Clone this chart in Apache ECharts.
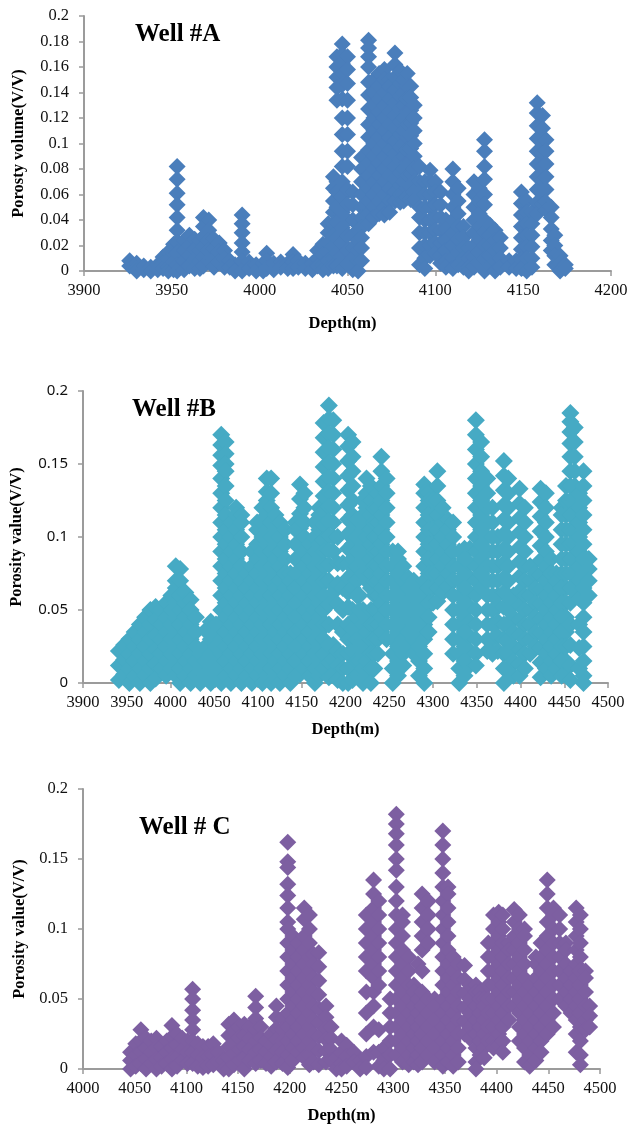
<!DOCTYPE html>
<html>
<head>
<meta charset="utf-8">
<title>Well porosity</title>
<script src="https://cdn.jsdelivr.net/npm/echarts@6/dist/echarts.min.js"></script>
<style>
html,body{margin:0;padding:0;background:#fff}
#main{width:628px;height:1125px}
</style>
</head>
<body>
<div id="main"></div>
<script>
// each depth has its own stack of porosity readings
const wellA_depths=[3926,3930,3934,3938,3942,3945,3948,3951,3953,3957,3960,3963,3966,3968,3971,3974,3977,3980,3983,3986,3990,3994,3998,4002,4004,4008,4012,4016,4019,4022,4026,4030,4033,4036,4039,4042,4044,4047,4050,4053,4056,4058,4062,4065,4068,4071,4074,4077,4080,4082,4084,4086,4088,4091,4094,4097,4100,4103,4106,4110,4113,4116,4119,4122,4125,4128,4131,4134,4137,4142,4146,4149,4152,4155,4158,4161,4163,4166,4168,4171,4174];
const wellA_porosity=[
[.008,.004],[.006,.002,0],[.004,.001],[.003,0],[.005,.001],[.011,.006,.002],[.015,.009,.003,0],[.021,.014,.007,.001],
[.082,.072,.061,.052,.042,.032,.023,.014,.005,0],[.024,.016,.008,.001],[.028,.02,.012,.004],[.025,.017,.009,.002],[.024,.016,.008,.002],
[.042,.035,.027,.019,.011,.004],[.04,.032,.024,.016,.008],[.025,.017,.009,.003],[.022,.015,.007],[.016,.01,.003],[.008,.003],[.005,0],
[.044,.037,.03,.022,.015,.008,0],[.007,.002],[.005,0],[.006,0],[.014,.008,.002],[.006,.001],[.007,.003],[.006,.002],[.013,.007,.002],[.008,.003],[.006,.002],[.006,.001],
[.016,.01,.004],[.021,.013,.005,.001],[.037,.03,.022,.015,.008,.002],[.074,.065,.055,.046,.037,.028,.019,.01,.004],
[.168,.16,.152,.144,.134,.07,.062,.05,.038,.026,.014,.004],
[.178,.17,.163,.155,.146,.135,.12,.107,.094,.082,.07,.058,.046,.034,.022,.012,.002],
[.168,.158,.147,.134,.12,.107,.094,.082,.064,.052,.04,.028,.016,.006],
[.062,.052,.04,.028,.018,.01,.001],[.032,.024,.016,.008,0],[.089,.08,.07,.06,.05,.042,.034,.026,.018,.008],
[.181,.175,.168,.16,.148,.138,.127,.115,.105,.095,.085,.075,.065,.055,.045,.037],
[.15,.14,.13,.12,.11,.1,.09,.08,.07,.06,.05,.042],[.155,.145,.135,.125,.115,.105,.095,.085,.075,.065,.055,.045],
[.158,.15,.14,.13,.12,.11,.1,.09,.08,.07,.06,.05,.044],[.15,.145,.135,.125,.115,.105,.095,.085,.075,.065,.055,.046],
[.171,.162,.152,.142,.132,.122,.112,.102,.092,.082,.072,.062,.055],[.157,.147,.137,.127,.117,.107,.097,.087,.077,.067,.06,.054],
[.15,.14,.13,.12,.11,.1,.09,.08,.07,.06,.055],[.155,.145,.135,.125,.115,.105,.095,.085,.075,.065,.058],
[.145,.136,.126,.116,.106,.096,.086,.076,.066,.056],[.13,.12,.11,.1,.09,.08,.07,.062,.056],[.082,.07,.062,.05,.042,.03,.018,.005],[.07,.06,.05,.04,.03,.02,.01,.002],
[.079,.07,.06,.05,.04,.03,.02,.012],[.07,.062,.052,.042,.032,.022,.014],[.062,.052,.042,.032,.022,.012,.006],[.04,.033,.024,.016,.008,.003],
[.08,.07,.06,.05,.04,.03,.02,.01,.002],[.065,.055,.045,.035,.025,.015,.005],[.035,.026,.018,.01,.003],[.018,.01,.003,0],[.07,.06,.05,.04,.03,.02,.011,.003],
[.065,.055,.045,.035,.025,.015,.006],[.103,.094,.082,.072,.06,.052,.04,.03,.02,.01,0],[.036,.028,.02,.012,.004],[.032,.024,.016,.008,0],[.026,.018,.01,.003],
[.008,.003],[.008,.002],[.062,.053,.044,.035,.026,.017,.009,.002],[.055,.046,.037,.028,.019,.01,0],[.046,.037,.028,.019,.01,.003],
[.132,.124,.114,.104,.094,.084,.074,.064,.054,.045],[.122,.112,.102,.092,.082,.072,.062,.052],[.103,.094,.084,.074,.064,.054,.048],[.05,.042,.033,.024,.016],
[.028,.02,.012,.005],[.012,.006,0],[.005,.002]
];

const wellB_depths=[3941,3947,3953,3959,3965,3971,3977,3983,3989,3995,4001,4006,4011,4017,4023,4029,4034,4040,4046,4052,4058,4063,4069,4075,4081,4087,4093,4099,4105,4110,4115,4120,4125,4131,4137,4143,4148,4153,4159,4165,4170,4175,4181,4186,4191,4197,4203,4208,4213,4216,4220,4224,4229,4233,4237,4241,4247,4254,4260,4266,4272,4278,4284,4290,4295,4300,4305,4311,4317,4323,4330,4336,4342,4349,4355,4362,4368,4374,4381,4386,4392,4399,4405,4411,4417,4423,4429,4435,4441,4447,4452,4457,4462,4467,4472,4478];
const wellB_porosity=[
[.022,.012,.002],[.026,.016,.006],[.03,.02,.01,0],[.035,.025,.015,.005],[.04,.03,.02,.01,0],[.045,.035,.025,.015,.005],[.05,.04,.03,.02,.01,0],[.052,.043,.033,.023,.013,.003],
[.05,.04,.03,.02,.01],[.055,.045,.035,.025,.015,.005],[.06,.05,.04,.03,.02,.01],[.08,.07,.065,.055,.045,.035,.025,.015,.005],[.078,.07,.06,.05,.04,.03,.02,.01,0],[.062,.055,.045,.035,.025,.015,.005],
[.057,.05,.04,.03,.02,.01,0],[.045,.035,.025,.015,.005],[.02,.01,0],[.036,.025,.015,.005],[.042,.03,.02,.01,0],[.04,.035,.025,.015,.005],
[.17,.163,.156,.149,.14,.13,.12,.11,.1,.09,.08,.07,.06,.05,.04,.03,.02,.01,0],[.165,.157,.15,.145,.135,.125,.115,.105,.095,.085,.075,.065,.055,.045,.035,.025,.015,.005],
[.11,.1,.09,.08,.07,.06,.05,.04,.03,.02,.01,0],[.12,.115,.105,.095,.085,.075,.065,.055,.045,.035,.025,.015,.005],[.115,.11,.1,.09,.08,.07,.06,.05,.04,.03,.02,.01,0],
[.075,.065,.055,.045,.035,.025,.015,.005],[.09,.08,.07,.06,.05,.04,.03,.02,.01,0],[.11,.105,.095,.085,.075,.065,.055,.045,.035,.025,.015,.005],
[.12,.11,.1,.09,.08,.07,.06,.05,.04,.03,.02,.01,0],[.14,.131,.125,.115,.105,.095,.085,.075,.065,.055,.045,.035,.025,.015,.005],[.14,.13,.12,.11,.1,.09,.08,.07,.06,.05,.04,.03,.02,.01,0],
[.115,.105,.095,.085,.075,.065,.055,.045,.035,.025,.015,.005],[.11,.1,.09,.08,.07,.06,.05,.04,.03,.02,.01,0],[.105,.095,.085,.075,.065,.055,.045,.035,.025,.015,.005],
[.075,.07,.06,.05,.04,.03,.02,.01,0],[.11,.105,.095,.085,.075,.065,.055,.045,.035,.025,.015,.005],[.136,.126,.116,.106,.096,.086,.076,.066,.056,.046,.036,.026,.016,.006],[.13,.12,.11,.1,.09,.08,.07,.06,.05,.04,.03,.02,.01],
[.095,.085,.075,.065,.055,.045,.035,.025,.015,.005],[.11,.1,.09,.08,.07,.06,.05,.04,.03,.02,.01,0],[.12,.115,.105,.095,.085,.075,.065,.055,.045,.035,.025,.015,.005],
[.178,.168,.158,.148,.138,.128,.118,.108,.098,.09,.08,.07,.06,.05,.04,.03,.02,.01],
[.19,.181,.171,.161,.151,.141,.131,.121,.111,.101,.091,.081,.07,.054,.04,.026,.014,.004],[.18,.17,.16,.15,.14,.13,.12,.11,.1,.09,.062,.026,.016,.006],[.1,.082,.068,.054,.04,.022,.012,.002],
[.082,.065,.05,.035,.02,.01,0],[.17,.162,.152,.142,.132,.122,.112,.102,.092,.082,.072,.062,.052,.04,.03,.02,.01,0],[.165,.155,.145,.135,.125,.115,.105,.095,.085,.075,.065,.05,.037,.022,.012,.002],
[.112,.1,.09,.08,.07,.06,.045,.03,.015,.005],[.06,.05,.038,.025,.015,.005],[.125,.115,.105,.095,.085,.075,.05,.04,.03,.02,.01,0],[.14,.13,.12,.11,.1,.09,.08,.07,.045,.035,.025,.015,.005],[.135,.125,.115,.105,.095,.085,.075,.065,.05,.04,.03,.02,.01,0],
[.12,.11,.1,.09,.08,.07,.06,.05,.04,.03,.02,.01],[.13,.12,.11,.1,.09,.08,.07,.06,.05,.04,.03,.02],
[.155,.145,.135,.125,.115,.105,.095,.085,.075,.065,.055,.045,.035],[.14,.13,.12,.11,.1,.09,.08,.07,.06,.05,.04,.03],
[.09,.08,.07,.06,.05,.04,.03,.02,.01,0],[.09,.085,.075,.065,.055,.045,.035,.025,.015,.005],[.08,.07,.06,.05,.04,.03,.02,.012],[.072,.065,.055,.045,.035,.025],[.07,.06,.05,.04,.03,.02],[.065,.055,.045,.035,.025,.015,.005],
[.136,.13,.12,.11,.1,.09,.08,.07,.06,.05,.04,.03,.02,.01,0],[.13,.125,.115,.105,.095,.085,.075,.065,.055,.045,.035],[.125,.115,.105,.095,.085,.075,.065,.055],
[.145,.135,.125,.115,.105,.095,.085,.075,.065,.056],[.12,.11,.1,.09,.08,.07,.062],[.112,.105,.095,.085,.075,.066],[.11,.1,.09,.08,.07,.06,.05,.04,.03,.02],[.09,.08,.07,.06,.05,.04,.03,.02,.01,0],[.092,.085,.075,.065,.055,.045,.035,.025,.015,.005],[.092,.082,.072,.062,.052,.042,.032,.022,.012],
[.18,.17,.16,.15,.14,.13,.12,.11,.1,.09,.08,.07,.06,.05,.04,.03,.02,.012],[.165,.155,.145,.135,.125,.115,.105,.095,.085,.075,.065],[.14,.13,.12,.11,.1,.09,.08,.07,.06,.05,.04,.03,.022],[.12,.11,.1,.09,.08,.07,.06,.05,.04,.03,.02],
[.1,.09,.08,.07,.06,.052,.042,.032,.022],[.152,.142,.132,.122,.112,.102,.092,.082,.072,.062,.052,.04,.03,.02,.01,0],[.14,.13,.12,.11,.1,.09,.08,.07,.06,.05,.04,.03,.02,.01],[.06,.055,.045,.035,.025,.015,.005],
[.133,.123,.113,.103,.093,.083,.073,.063,.053,.043,.033,.023,.013,.005],[.12,.11,.1,.09,.08,.07,.06,.05,.04,.03,.02,.01],[.08,.07,.06,.05,.04,.03,.02],[.075,.065,.055,.045,.035,.025],
[.133,.124,.114,.104,.094,.084,.074,.064,.054,.044,.034,.024,.014,.004],[.13,.12,.11,.1,.09,.08,.07,.06,.05,.04,.03,.02,.01],[.085,.075,.065,.055,.045,.035,.025,.015,.005],
[.075,.07,.06,.05,.04,.03,.02,.01],[.12,.115,.105,.095,.085,.075,.065,.055,.045,.035,.025,.015,.005],[.135,.125,.115,.105,.095,.085,.075,.065,.055,.045,.035,.025,.015,.005],
[.185,.179,.172,.164,.155,.145,.135,.125,.115,.105,.095,.085,.075,.065,.055,.04,.026,.012,.002],
[.175,.165,.155,.145,.135,.125,.115,.105,.095,.085,.075,.062],[.13,.12,.11,.1,.09,.08,.07,.058,.04,.024,.01],[.145,.135,.125,.115,.105,.095,.085,.075,.065,.055,.045,.035,.025,.015,.005,0],[.085,.078,.07,.06]
];

const wellC_depths=[4046,4051,4056,4061,4066,4071,4076,4081,4086,4091,4096,4101,4106,4111,4116,4121,4126,4131,4136,4141,4146,4151,4156,4161,4167,4172,4177,4182,4187,4193,4198,4203,4208,4214,4219,4223,4228,4235,4240,4245,4250,4255,4262,4268,4274,4281,4286,4291,4297,4303,4309,4315,4320,4324,4328,4334,4340,4348,4353,4358,4363,4369,4374,4380,4384,4388,4392,4397,4402,4406,4412,4417,4422,4427,4432,4438,4443,4449,4455,4461,4467,4472,4477,4481,4486,4490];
const wellC_porosity=[
[.012,.006,0],[.018,.01,.002],[.028,.02,.012,.004],[.022,.015,.007,0],[.02,.012,.004],[.022,.015,.007,0],[.016,.008,.002],[.02,.012,.004],[.031,.023,.015,.007,0],[.025,.017,.009,.002],[.022,.014,.006],[.02,.012,.004],
[.057,.05,.042,.035,.028,.02,.012,.004],[.018,.01,.002],[.016,.008,.001],[.016,.009,.002],[.018,.01,.003],[.012,.005],[.006,0],[.032,.024,.016,.008,0],[.035,.027,.019,.011,.003],[.03,.022,.014,.006],
[.032,.024,.016,.008,0],[.03,.022,.014,.006],[.052,.044,.036,.028,.02,.012,.004],[.03,.022,.014,.006],[.02,.012,.004],[.025,.017,.009,.002],[.045,.037,.029,.021,.013,.005],[.036,.028,.02,.012,.004],
[.162,.148,.144,.132,.124,.115,.105,.1,.09,.08,.07,.06,.05,.04,.03,.02,.01,.001],[.095,.085,.075,.065,.055,.045,.035,.025,.015,.006],[.09,.08,.07,.06,.05,.04,.03,.02,.012],[.115,.107,.095,.085,.075,.065,.055,.045,.035,.025,.015,.008],
[.11,.1,.09,.08,.07,.06,.05,.04,.03,.02,.01,.003],[.082,.075,.065,.055,.045,.035,.025,.015,.005],[.083,.073,.063,.053,.043,.033,.023,.013,.003],[.045,.037,.029,.021,.013,.005],[.03,.022,.014,.006],[.008,0],[.02,.012,.004,0],
[.017,.009,.002],[.012,.005],[.006,0],[.11,.1,.09,.08,.07,.055,.04,.025,.009,.001],[.135,.125,.115,.105,.095,.085,.075,.065,.055,.045,.03,.012],[.12,.11,.1,.09,.08,.07,.06,.028,.012,.002],[.015,.006,0],
[.05,.04,.03,.02,.01,0],[.182,.175,.168,.16,.15,.142,.13,.12,.11,.1,.09,.08,.07,.06,.05,.04,.03,.02,.01],[.11,.105,.095,.085,.075,.065,.055,.045,.035,.025,.015,.005],[.08,.07,.06,.05,.04,.03,.02,.01,.003],[.06,.055,.045,.035,.025,.015,.005],
[.075,.05,.04,.03,.02,.01,.003],[.125,.115,.105,.095,.085,.07,.055,.045,.035,.025,.015,.005],[.12,.11,.1,.09,.05,.04,.03,.02,.01],[.05,.045,.035,.025,.015,.005],[.17,.16,.15,.14,.13,.12,.11,.1,.09,.08,.07,.06,.05,.04,.03,.02,.01,.002],
[.13,.125,.115,.105,.095,.085,.075,.065,.055,.045,.035,.025,.015,.005],[.08,.07,.06,.05,.04,.03,.02,.01,.002],[.075,.065,.055,.045,.035,.025,.015,.005],[.074,.064,.054,.044,.034,.025],[.06,.05,.04,.03,.022],[.06,.055,.045,.035,.025,.015,.005,0],
[.055,.05,.04,.03,.02,.01],[.05,.045,.035,.025,.015,.008],[.09,.08,.07,.06,.05,.04,.03,.02],[.11,.1,.09,.08,.07,.06,.05,.04,.03,.02,.015],[.112,.105,.095,.085,.075,.065,.055,.045,.035,.025,.017],[.11,.1,.09,.08,.07,.06,.05,.04,.03,.02,.012],[.09,.085,.075,.065,.055,.045,.035],
[.114,.105,.095,.085,.075,.065,.055,.045],[.11,.1,.09,.08,.07,.06,.05,.04,.03,.02],[.1,.095,.085,.075,.065,.055,.045,.035,.025,.015,.005],[.06,.05,.04,.03,.02,.01,.002],[.08,.075,.065,.055,.045,.035,.025,.015,.006],[.09,.08,.07,.06,.05,.04,.03,.02,.012],
[.135,.125,.115,.105,.095,.085,.075,.065,.055,.045,.035,.025],[.115,.11,.1,.09,.08,.07,.06,.05,.04,.03],[.11,.1,.09,.08,.07,.06,.05],[.09,.085,.075,.065,.055,.045],[.07,.06,.05,.04],
[.115,.105,.095,.085,.075,.065,.055,.045,.035,.025,.012],[.11,.1,.09,.08,.07,.06,.05,.04,.03,.02,.01,.003],[.07,.065,.055,.045,.035,.028],[.045,.038,.03]
];

const xRangeA=[3900,4200], xRangeB=[3900,4500], xRangeC=[4000,4500];
const yIntervalA=0.02, yIntervalOther=0.05, xInterval=[50,50,50];
const wellNames=['Well #A','Well #B','Well # C'];
const yNames=['Porosty volume(V/V)','Porosity value(V/V)','Porosity value(V/V)'];
const colors=['#4a7ebb','#46aac4','#7d5fa1'];

function toPoints(depths,porosity){
    var pts=[];
    for(let i=0;i<depths.length;i++){
        for(let j=0;j<porosity[i].length;j++){
            pts.push([depths[i],porosity[i][j]]);
        }
    }
    return pts;
}
const serif='"Liberation Serif","Times New Roman",serif';
const sans='"Noto Sans",sans-serif';
const axisGray='#9b9b9b';
function xAxisOf(idx,range,nameGap,namePadding){
    return {
        gridIndex:idx,type:'value',min:range[0],max:range[1],interval:xInterval[idx],
        name:'Depth(m)',nameLocation:'middle',nameGap:nameGap,
        nameTextStyle:{fontFamily:serif,fontWeight:'bold',fontSize:16.5,color:'#000',padding:namePadding},
        axisLine:{onZero:false,lineStyle:{color:axisGray,width:2}},
        axisTick:{length:5,lineStyle:{color:axisGray,width:1.5}},
        axisLabel:{fontFamily:serif,fontSize:16.5,color:'#111',margin:11,showMinLabel:true,showMaxLabel:true,formatter:function(v){return String(v)}},
        splitLine:{show:false}
    };
}
function yAxisOf(idx,interval,nameGap,labelFont,labelSize){
    return {
        gridIndex:idx,type:'value',min:0,max:0.2,interval:interval,
        name:yNames[idx],nameLocation:'middle',nameGap:nameGap,
        nameTextStyle:{fontFamily:serif,fontWeight:'bold',fontSize:16.5,color:'#000'},
        axisLine:{show:true,onZero:false,lineStyle:{color:axisGray,width:2}},
        axisTick:{show:true,length:5,lineStyle:{color:axisGray,width:1.5}},
        axisLabel:{fontFamily:labelFont,fontSize:labelSize,color:'#111',margin:15,showMinLabel:true,showMaxLabel:true},
        splitLine:{show:false}
    };
}
function seriesOf(idx,data,size){
    return {type:'scatter',xAxisIndex:idx,yAxisIndex:idx,symbol:'diamond',symbolSize:size,clip:false,
        itemStyle:{color:colors[idx],opacity:1},data:data,animation:false,silent:true};
}
var chart=echarts.init(document.getElementById('main'),null,{renderer:'canvas'});
var titleStyle={fontFamily:serif,fontWeight:'bold',fontSize:25,color:'#000'};
var option={
    animation:false,
    backgroundColor:'#fff',
    title:[
        {text:wellNames[0],left:135,top:22,padding:0,textStyle:titleStyle},
        {text:wellNames[1],left:132,top:397,padding:0,textStyle:titleStyle},
        {text:wellNames[2],left:139,top:815,padding:0,textStyle:titleStyle}
    ],
    grid:[
        {left:84,width:527,top:16,height:255,outerBoundsMode:'none'},
        {left:83,width:525,top:391,height:292,outerBoundsMode:'none'},
        {left:83,width:517,top:789,height:280,outerBoundsMode:'none'}
    ],
    xAxis:[xAxisOf(0,xRangeA,44,[0,10,0,0]),xAxisOf(1,xRangeB,38,0),xAxisOf(2,xRangeC,38,0)],
    yAxis:[yAxisOf(0,yIntervalA,57,serif,16.5),yAxisOf(1,yIntervalOther,58,sans,15),yAxisOf(2,yIntervalOther,55,serif,16.5)],
    series:[
        seriesOf(0,toPoints(wellA_depths,wellA_porosity),17),
        seriesOf(1,toPoints(wellB_depths,wellB_porosity),18),
        seriesOf(2,toPoints(wellC_depths,wellC_porosity),17)
    ]
};
chart.setOption(option);
</script>
</body>
</html>
